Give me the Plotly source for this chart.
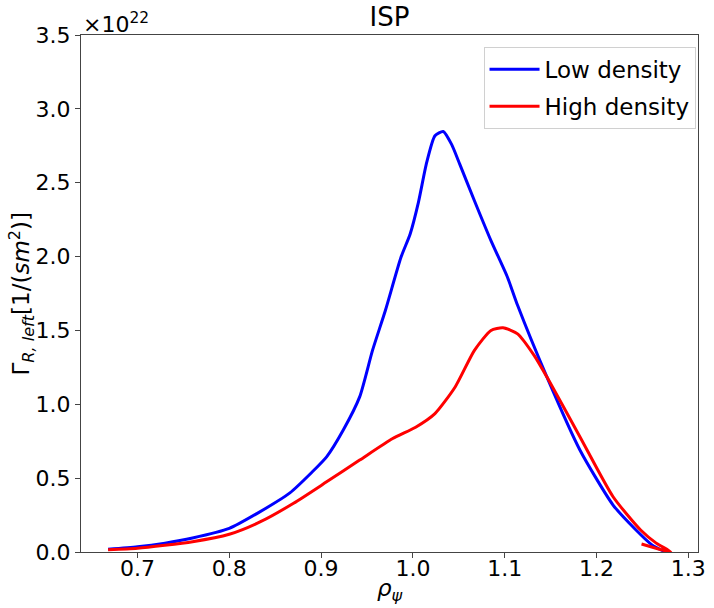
import plotly.graph_objects as go

# Data (flux in units of 1e22)
rho_low = [0.668, 0.70, 0.73, 0.76, 0.80, 0.83, 0.866, 0.89, 0.906, 0.924, 0.942, 0.956,
           0.970, 0.987, 0.997, 1.006, 1.015, 1.024, 1.033, 1.042, 1.051, 1.067, 1.085,
           1.103, 1.114, 1.146, 1.182, 1.218, 1.243, 1.26, 1.275]
flux_low = [0.018, 0.035, 0.06, 0.095, 0.16, 0.26, 0.40, 0.54, 0.644, 0.824, 1.05, 1.365,
            1.635, 1.995, 2.153, 2.367, 2.637, 2.818, 2.847, 2.761, 2.626, 2.378, 2.108,
            1.86, 1.67, 1.184, 0.689, 0.318, 0.149, 0.05, 0.0]

rho_high = [0.668, 0.70, 0.76, 0.80, 0.834, 0.870, 0.906, 0.942, 0.978, 1.003, 1.024, 1.046,
            1.067, 1.085, 1.098, 1.114, 1.132, 1.146, 1.182, 1.218, 1.248, 1.265, 1.281, 1.249]
flux_high = [0.015, 0.025, 0.07, 0.12, 0.205, 0.33, 0.475, 0.622, 0.768, 0.845, 0.937, 1.117,
             1.365, 1.50, 1.518, 1.477, 1.331, 1.184, 0.779, 0.374, 0.149, 0.06, 0.0, 0.054]

x_ticks = [0.7, 0.8, 0.9, 1.0, 1.1, 1.2, 1.3]
y_ticks = [0.0, 0.5, 1.0, 1.5, 2.0, 2.5, 3.0, 3.5]

FONT = "DejaVu Sans"
TICK_FS = 22
LABEL_FS = 23

fig = go.Figure()
fig.add_trace(go.Scatter(x=rho_low, y=flux_low, mode="lines", name="Low density",
                         legendgroup="a",
                         line=dict(color="#0000ff", width=3, shape="spline", smoothing=0.6)))
fig.add_trace(go.Scatter(x=rho_high, y=flux_high, mode="lines", name="High density",
                         legendgroup="b",
                         line=dict(color="#ff0000", width=3, shape="spline", smoothing=0.6)))

axis_common = dict(showline=True, linecolor="#444", linewidth=1, mirror=True,
                   ticks="outside", ticklen=5, tickcolor="#444", showgrid=False,
                   zeroline=False, tickfont=dict(family=FONT, size=TICK_FS, color="black"))

fig.update_layout(
    width=714, height=608,
    margin=dict(l=81, r=8, t=35, b=56),
    plot_bgcolor="white", paper_bgcolor="white",
    font=dict(family=FONT, size=TICK_FS, color="black"),
    title=dict(text="ISP", x=0.5, xref="paper", xanchor="center", y=0.972, yanchor="middle",
               font=dict(family=FONT, size=26, color="black")),
    xaxis=dict(range=[0.6385, 1.3105], tickvals=x_ticks, tickformat=".1f",
               ticklabelstandoff=-8, **axis_common),
    yaxis=dict(range=[0, 3.5], tickvals=y_ticks, tickformat=".1f", **axis_common),
    legend=dict(x=0.996, y=0.977, xanchor="right", yanchor="top",
                bgcolor="white", bordercolor="#d0d0d0", borderwidth=1,
                font=dict(family=FONT, size=LABEL_FS, color="black"), itemwidth=50,
                tracegroupgap=4),
    showlegend=True,
)

fig.add_annotation(text="×10<sup>22</sup>", xref="paper", yref="paper", x=0.0, y=1.0,
                   xanchor="left", yanchor="bottom", showarrow=False,
                   font=dict(family=FONT, size=TICK_FS, color="black"), yshift=-4)

fig.add_annotation(text="<i>ρ</i><sub><i>ψ</i></sub>", xref="paper", yref="paper",
                   x=0.5, y=0, xanchor="center", yanchor="middle", yshift=-38,
                   showarrow=False, font=dict(family=FONT, size=LABEL_FS, color="black"))

fig.add_annotation(text="Γ<sub><i>R, left</i></sub>[1/(<i>sm</i><sup>2</sup>)]", xref="paper",
                   yref="paper", x=0, y=0.5, xanchor="center", yanchor="middle", xshift=-60,
                   textangle=-90, showarrow=False,
                   font=dict(family=FONT, size=LABEL_FS, color="black"))

fig.write_html("out.html")
